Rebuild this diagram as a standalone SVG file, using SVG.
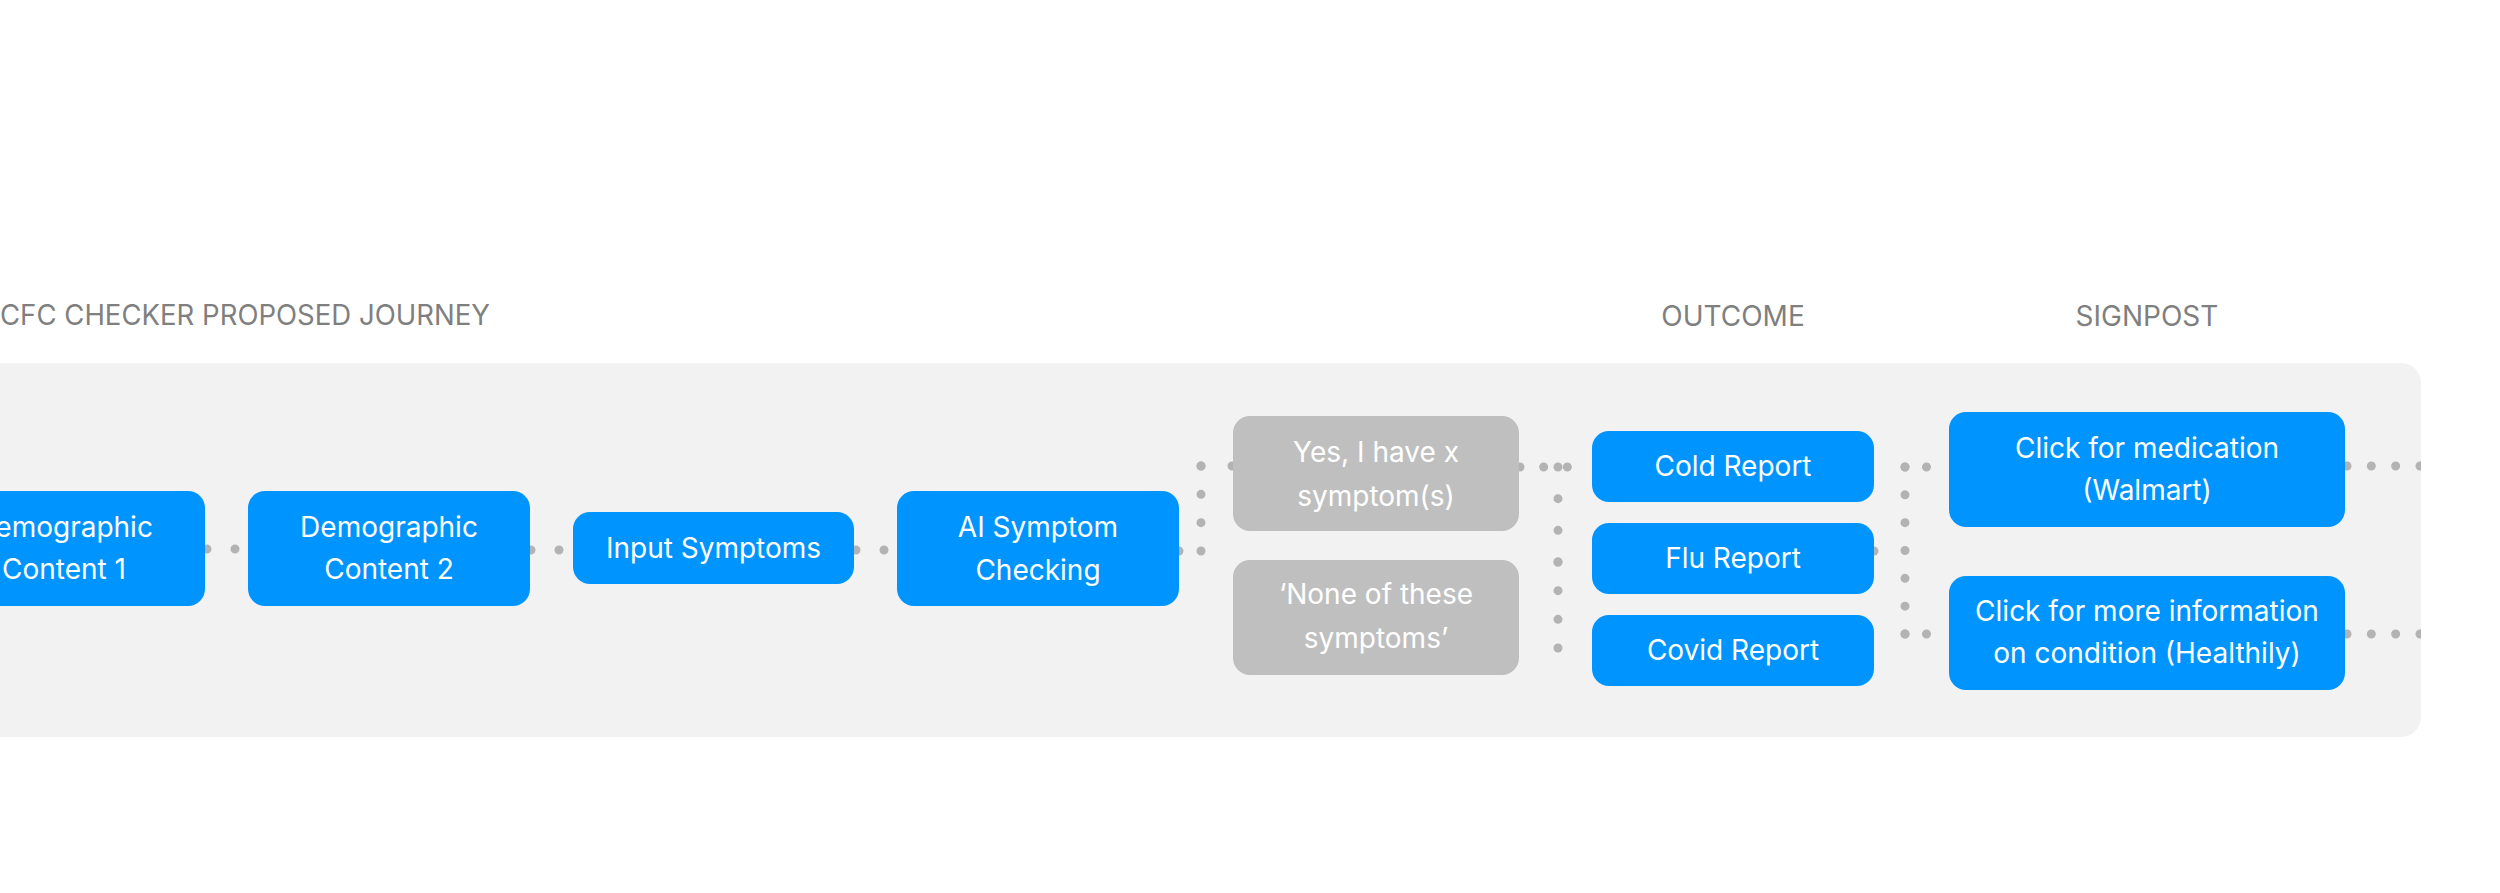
<svg xmlns="http://www.w3.org/2000/svg" width="2500" height="893" viewBox="0 0 2500 893">
<style>
.lbl{font-family:Inter,"Liberation Sans",sans-serif;font-size:28px;fill:#7f7f7f}
.t{font-family:Inter,"Liberation Sans",sans-serif;font-size:28px;fill:#ffffff;text-anchor:middle}
.blue{fill:#0094ff}
.grey{fill:#bfbfbf}
.c{fill:none;stroke:#b3b3b3;stroke-width:9;stroke-linecap:round}
</style>
<defs>
<clipPath id="panelClip"><rect x="-40" y="363" width="2461" height="374" rx="20"/></clipPath>
</defs>
<rect width="2500" height="893" fill="#ffffff"/>
<rect id="panel" x="-40" y="363" width="2461" height="374" rx="20" fill="#f2f2f2"/>
<text class="lbl" x="0" y="325" textLength="490" lengthAdjust="spacingAndGlyphs">CFC CHECKER PROPOSED JOURNEY</text>
<text class="lbl" x="1733" y="326" text-anchor="middle">OUTCOME</text>
<text class="lbl" x="2147" y="326" text-anchor="middle">SIGNPOST</text>
<g id="connectors" clip-path="url(#panelClip)">
<path class="c" d="M207 549H248" stroke-dasharray="0 28"/>
<path class="c" d="M531 550H573" stroke-dasharray="0 28"/>
<path class="c" d="M856 550H897" stroke-dasharray="0 28"/>
<path class="c" d="M1179 551H1201" stroke-dasharray="0 22"/>
<path class="c" d="M1201 551V466" stroke-dasharray="0 28.33"/>
<path class="c" d="M1201 466H1233" stroke-dasharray="0 31"/>
<path class="c" d="M1520 467H1591" stroke-dasharray="0 23.67"/>
<path class="c" d="M1558 467V562" stroke-dasharray="0 31.67"/>
<path class="c" d="M1558 562V648" stroke-dasharray="0 28.67"/>
<path class="c" d="M1558 562H1591" stroke-dasharray="0 33"/>
<path class="c" d="M1558 648H1591" stroke-dasharray="0 33"/>
<path class="c" d="M1874 551H1905" stroke-dasharray="0 31"/>
<path class="c" d="M1905 467V634" stroke-dasharray="0 27.83"/>
<path class="c" d="M1905 467H1948" stroke-dasharray="0 21.5"/>
<path class="c" d="M1905 634H1948" stroke-dasharray="0 21.5"/>
<path class="c" d="M2347 466H2420" stroke-dasharray="0 24.33"/>
<path class="c" d="M2347 634H2420" stroke-dasharray="0 24.33"/>
</g>
<g id="dem1"><rect class="blue" x="-77" y="491" width="282" height="115" rx="17"/><text class="t" x="64" y="537">Demographic</text><text class="t" x="64" y="579">Content 1</text></g>
<g id="dem2"><rect class="blue" x="248" y="491" width="282" height="115" rx="17"/><text class="t" x="389" y="537">Demographic</text><text class="t" x="389" y="579">Content 2</text></g>
<g id="input"><rect class="blue" x="573" y="512" width="281" height="72" rx="17"/><text class="t" x="713.5" y="558">Input Symptoms</text></g>
<g id="ai"><rect class="blue" x="897" y="491" width="282" height="115" rx="17"/><text class="t" x="1038" y="537">AI Symptom</text><text class="t" x="1038" y="580">Checking</text></g>
<g id="yes"><rect class="grey" x="1233" y="416" width="286" height="115" rx="17"/><text class="t" x="1376" y="462">Yes, I have x</text><text class="t" x="1376" y="506">symptom(s)</text></g>
<g id="none"><rect class="grey" x="1233" y="560" width="286" height="115" rx="17"/><text class="t" x="1376" y="604">‘None of these</text><text class="t" x="1376" y="648">symptoms’</text></g>
<g id="cold"><rect class="blue" x="1592" y="431" width="282" height="71" rx="17"/><text class="t" x="1733" y="476">Cold Report</text></g>
<g id="flu"><rect class="blue" x="1592" y="523" width="282" height="71" rx="17"/><text class="t" x="1733" y="568">Flu Report</text></g>
<g id="covid"><rect class="blue" x="1592" y="615" width="282" height="71" rx="17"/><text class="t" x="1733" y="660">Covid Report</text></g>
<g id="medication"><rect class="blue" x="1949" y="412" width="396" height="115" rx="17"/><text class="t" x="2147" y="458">Click for medication</text><text class="t" x="2147" y="500">(Walmart)</text></g>
<g id="moreinfo"><rect class="blue" x="1949" y="576" width="396" height="114" rx="17"/><text class="t" x="2147" y="621">Click for more information</text><text class="t" x="2147" y="663">on condition (Healthily)</text></g>
</svg>
